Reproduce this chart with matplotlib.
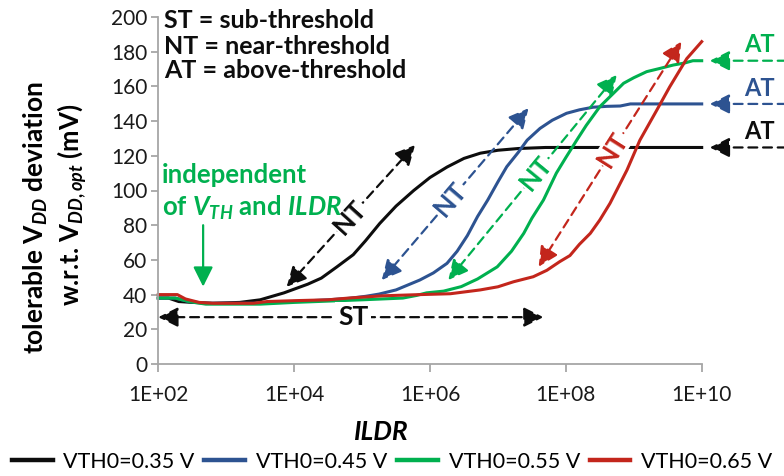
"""Tolerable VDD deviation vs. ILDR for four threshold voltages."""
import numpy as np
import matplotlib
matplotlib.use('Agg')
import matplotlib.pyplot as plt
from matplotlib.ticker import FixedLocator, FuncFormatter, NullLocator

# log10(ILDR) and tolerable deviation (mV) per curve
LOG_ILDR_035 = [2.0, 2.15, 2.3, 2.5, 2.8, 3.2, 3.5, 3.85, 4.2, 4.4, 4.63, 4.87, 5.05, 5.26,
                5.5, 5.76, 6.0, 6.25, 6.5, 6.74, 7.0, 7.3, 7.7, 10.0]
DEV_035 = [38, 38, 36, 35.5, 35, 35.5, 37, 41, 46, 49.5, 56, 63, 71, 81,
           91, 100, 107.5, 113.5, 118.5, 121.5, 123.2, 124.2, 124.8, 124.8]

LOG_ILDR_045 = [2.0, 2.25, 2.45, 2.7, 3.5, 4.0, 4.5, 4.8, 5.05, 5.25, 5.5, 5.85, 6.05, 6.25,
                6.4, 6.55, 6.7, 6.85, 7.0, 7.13, 7.3, 7.43, 7.62, 7.8, 8.01, 8.2, 8.4, 8.6,
                8.8, 8.95, 10.0]
DEV_045 = [38, 38, 36, 35, 35, 36, 37, 37.8, 39, 40.3, 42.7, 48.4, 52.5, 58,
           65, 74, 85, 94.5, 105, 113.7, 122, 129, 135.8, 140.5, 144.5, 146.5, 148, 148.5,
           148.7, 149.9, 149.9]

LOG_ILDR_055 = [2.0, 2.25, 2.45, 2.7, 3.5, 4.0, 5.0, 5.6, 5.8, 5.95, 6.2, 6.46, 6.7, 6.99,
                7.2, 7.38, 7.5, 7.67, 7.86, 8.0, 8.16, 8.3, 8.5, 8.7, 8.85, 9.0, 9.19, 9.4,
                9.58, 9.75, 9.87, 10.0]
DEV_055 = [38, 38, 36, 34.5, 34.5, 35.5, 37, 38, 39.5, 41, 42, 44.6, 49, 56,
           65, 75.3, 84, 94.5, 110, 119, 129, 137.5, 148.3, 156, 161.8, 165, 168.5, 170.5,
           172.3, 173.5, 174.8, 174.8]

LOG_ILDR_065 = [2.0, 2.28, 2.4, 2.6, 2.8, 3.4, 3.6, 4.0, 4.5, 4.8, 5.3, 5.85, 6.3, 6.74,
                7.0, 7.23, 7.52, 7.72, 7.91, 8.06, 8.2, 8.36, 8.5, 8.65, 8.9, 9.09, 9.34,
                9.53, 9.78, 10.0]
DEV_065 = [40, 40, 37.5, 35.5, 35, 35, 36, 36.5, 37, 38, 39.3, 40, 40.5, 42.7,
           44.5, 47.4, 50.3, 54, 59, 62.5, 69, 75.3, 83, 92.6, 111.8, 129, 146.4,
           159.8, 176, 185.8]

LABELS = ['VTH0=0.35 V', 'VTH0=0.45 V', 'VTH0=0.55 V', 'VTH0=0.65 V']
COLORS = ['#0d0d0d', '#2d5391', '#00b04f', '#c3261c']

# NT arrows: (log ILDR, mV) at the low end and the high end
NT_LOW = [(3.89, 44.5), (5.29, 48.4), (6.27, 48.4), (7.60, 56.1)]
NT_HIGH = [(5.78, 126.2), (7.45, 147.4), (8.75, 166.6), (9.70, 185.8)]
NT_POS = [0.49, 0.47, 0.52, 0.52]

# AT plateaus (mV)
AT_LEVEL = [124.8, 149.9, 174.8]

XTICKS = [2, 4, 6, 8, 10]
YTICKS = list(range(0, 201, 20))

W, H = 784, 476

plt.rcParams['font.family'] = ['Lato', 'DejaVu Sans']
plt.rcParams['mathtext.fontset'] = 'custom'
plt.rcParams['mathtext.rm'] = 'Lato:bold'
plt.rcParams['mathtext.it'] = 'Lato:italic:bold'
plt.rcParams['mathtext.bf'] = 'Lato:bold'


def fx(px):
    return px / W


def fy(py):
    return 1 - py / H


def dashed_arrow(ax, p0, p1, color, both=False, lw=1.6):
    style = '<|-|>' if both else '-|>'
    ax.annotate('', xy=(10 ** p1[0], p1[1]), xytext=(10 ** p0[0], p0[1]),
                arrowprops=dict(arrowstyle=style, color=color, lw=lw,
                                linestyle=(0, (4, 2.6)), mutation_scale=30,
                                shrinkA=0, shrinkB=0),
                annotation_clip=False)


fig = plt.figure(figsize=(W / 100, H / 100), dpi=100)
ax = fig.add_axes([fx(158.3), fy(364), fx(701.7) - fx(158.3), fy(17) - fy(364)])

series = [(LOG_ILDR_035, DEV_035), (LOG_ILDR_045, DEV_045),
          (LOG_ILDR_055, DEV_055), (LOG_ILDR_065, DEV_065)]
for (lx, dv), lab, col in zip(series, LABELS, COLORS):
    ax.plot(10 ** np.array(lx), dv, color=col, lw=2.2, label=lab, clip_on=False)

ax.set_xscale('log')
ax.set_xlim(1e2, 1e10)
ax.set_ylim(0, 200)
ax.xaxis.set_major_locator(FixedLocator([10.0 ** e for e in XTICKS]))
ax.xaxis.set_minor_locator(NullLocator())
ax.xaxis.set_major_formatter(FuncFormatter(lambda v, _: f'1E+{int(round(np.log10(v))):02d}'))
ax.yaxis.set_major_locator(FixedLocator(YTICKS))

for side in ('top', 'right'):
    ax.spines[side].set_visible(False)
for side in ('left', 'bottom'):
    ax.spines[side].set_color('#a6a6a6')
    ax.spines[side].set_linewidth(1.3)
ax.tick_params(axis='both', colors='#a6a6a6', labelcolor='#1a1a1a', labelsize=15,
               width=1.3)
ax.tick_params(axis='x', length=6, pad=9)
ax.tick_params(axis='y', length=5, pad=3)

# NT arrows with labels sitting on them
fig.canvas.draw()
for lo, hi, t, col in zip(NT_LOW, NT_HIGH, NT_POS, COLORS):
    dashed_arrow(ax, lo, hi, col, both=True)
    a = ax.transData.transform((10 ** lo[0], lo[1]))
    b = ax.transData.transform((10 ** hi[0], hi[1]))
    ang = np.degrees(np.arctan2(b[1] - a[1], b[0] - a[0]))
    mx = lo[0] + t * (hi[0] - lo[0])
    my = lo[1] + t * (hi[1] - lo[1])
    ax.text(10 ** mx, my, 'NT', color=col, fontsize=19, fontweight='bold',
            rotation=ang, rotation_mode='anchor', ha='center', va='center',
            bbox=dict(fc='white', ec='none', pad=0.5))

# AT arrows to the right of the plot
for lvl, col in zip(AT_LEVEL, COLORS):
    dashed_arrow(ax, (11.25, lvl), (10.12, lvl), col)
    ax.text(10 ** 10.85, lvl + 2.5, 'AT', color=col, fontsize=17, fontweight='bold',
            ha='center', va='bottom', clip_on=False)

# ST arrow
dashed_arrow(ax, (2.0, 27), (7.67, 27), '#0d0d0d', both=True)
ax.text(10 ** 4.87, 27, 'ST', color='#0d0d0d', fontsize=19, fontweight='bold',
        ha='center', va='center', bbox=dict(fc='white', ec='none', pad=2.0))

# independence note
GREEN = COLORS[2]
ax.annotate('', xy=(10 ** 2.66, 44.6), xytext=(10 ** 2.66, 80),
            arrowprops=dict(arrowstyle='-|>', color=GREEN, lw=1.6, mutation_scale=30,
                            shrinkA=0, shrinkB=0))
fig.text(fx(162), fy(175), 'independent', color=GREEN, fontsize=18.5, fontweight='bold',
         ha='left', va='center')
fig.text(fx(162), fy(208), r'of $V_{TH}$ and $ILDR$', color=GREEN, fontsize=18.5,
         fontweight='bold', ha='left', va='center')

# abbreviations
for i, s in enumerate(['ST = sub-threshold', 'NT = near-threshold', 'AT = above-threshold']):
    fig.text(fx(164), fy(21 + 25 * i), s, fontsize=18, fontweight='bold',
             ha='left', va='center', color='#0d0d0d')

# axis titles
fig.text(fx(36), fy(218), r'tolerable $\mathrm{V}_{DD}$ deviation', rotation=90,
         fontsize=19, fontweight='bold', ha='center', va='center')
fig.text(fx(72), fy(205), r'w.r.t. $\mathrm{V}_{DD,opt}$ (mV)', rotation=90,
         fontsize=18.5, fontweight='bold', ha='center', va='center')
fig.text(fx(381), fy(432), 'ILDR', fontsize=19, fontweight='bold', fontstyle='italic',
         ha='center', va='center')

leg = fig.legend(loc='center', bbox_to_anchor=(0.5, fy(462)), ncol=4, frameon=False,
                 fontsize=15.5, handlelength=1.9, handletextpad=0.5, columnspacing=0.45,
                 borderpad=0.2)
for h in leg.legend_handles:
    h.set_linewidth(3.2)

fig.savefig('out.png', dpi=100)
